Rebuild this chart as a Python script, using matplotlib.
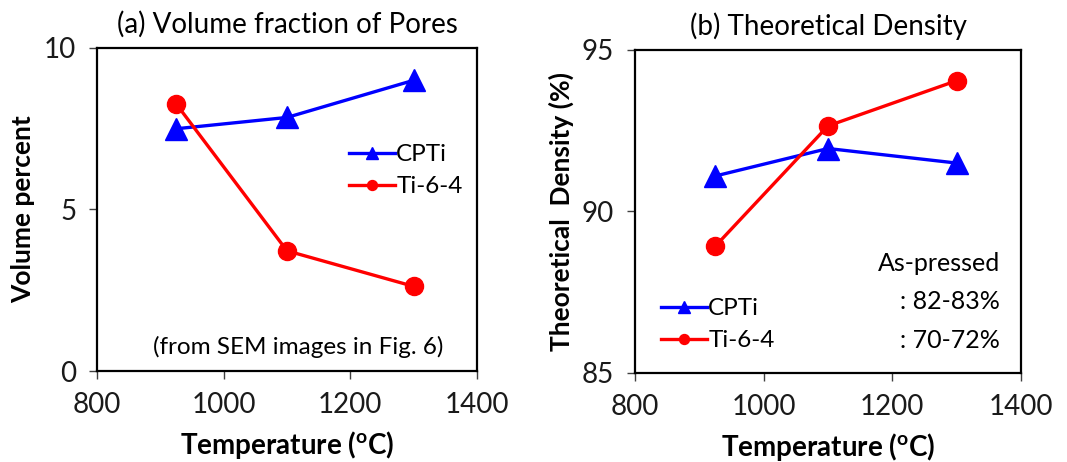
import matplotlib
matplotlib.use('Agg')
import matplotlib.pyplot as plt

plt.rcParams['font.family'] = ['Lato', 'DejaVu Sans']

temps = [925, 1100, 1300]
pores_cpti = [7.5, 7.85, 9.0]
pores_ti64 = [8.27, 3.72, 2.62]
dens_cpti = [91.1, 91.95, 91.5]
dens_ti64 = [88.93, 92.65, 94.05]
x_ticks = [800, 1000, 1200, 1400]

fig = plt.figure(figsize=(10.67, 4.62), dpi=100)
W, H = 1067, 462
ax1 = fig.add_axes([97 / W, 1 - 371 / H, 380 / W, 323 / H])
ax2 = fig.add_axes([635 / W, 1 - 373 / H, 386 / W, 323 / H])

blue = '#0000ff'
red = '#ff0000'


def style(ax):
    for s in ax.spines.values():
        s.set_linewidth(1.6)
        s.set_color('black')
    ax.tick_params(axis='both', which='major', labelsize=20, length=6,
                   width=1, direction='out', top=False, right=False,
                   colors='#404040', labelcolor='#1a1a1a', pad=9)
    ax.set_xlim(800, 1400)
    ax.set_xticks(x_ticks)
    ax.set_xlabel('Temperature ($\\mathregular{^oC}$)', fontsize=20,
                  fontweight='bold', labelpad=8)


# (a)
ax1.plot(temps, pores_cpti, color=blue, lw=2.4, marker='^', ms=16, label='CPTi')
ax1.plot(temps, pores_ti64, color=red, lw=2.4, marker='o', ms=13, label='Ti-6-4')
ax1.set_ylim(0, 10)
ax1.set_yticks([0, 5, 10])
style(ax1)
ax1.set_ylabel('Volume percent', fontsize=19, fontweight='bold', labelpad=6)
ax1.set_title('(a) Volume fraction of Pores', fontsize=20, pad=11)
ax1.text(0.53, 0.075, '(from SEM images in Fig. 6)', transform=ax1.transAxes,
         fontsize=17.5, ha='center', va='center')
ax1.legend(loc='upper right', bbox_to_anchor=(1.02, 0.77), frameon=False,
           fontsize=17.5, handlelength=1.9, handletextpad=0.05,
           markerscale=0.55, labelspacing=0.45)

# (b)
ax2.plot(temps, dens_cpti, color=blue, lw=2.4, marker='^', ms=16, label='CPTi')
ax2.plot(temps, dens_ti64, color=red, lw=2.4, marker='o', ms=13, label='Ti-6-4')
ax2.set_ylim(85, 95)
ax2.set_yticks([85, 90, 95])
style(ax2)
ax2.set_ylabel('Theoretical  Density (%)', fontsize=19, fontweight='bold', labelpad=6)
ax2.set_title('(b) Theoretical Density', fontsize=20, pad=11)
ax2.legend(loc='lower left', bbox_to_anchor=(0.01, 0.0), frameon=False,
           fontsize=17.5, handlelength=1.9, handletextpad=0.05,
           markerscale=0.55, labelspacing=0.45)
for txt, yy in [('As-pressed', 0.34), (': 82-83%', 0.22), (': 70-72%', 0.10)]:
    ax2.text(0.945, yy, txt, transform=ax2.transAxes, fontsize=18,
             ha='right', va='center')

fig.savefig('out.png', dpi=100)
